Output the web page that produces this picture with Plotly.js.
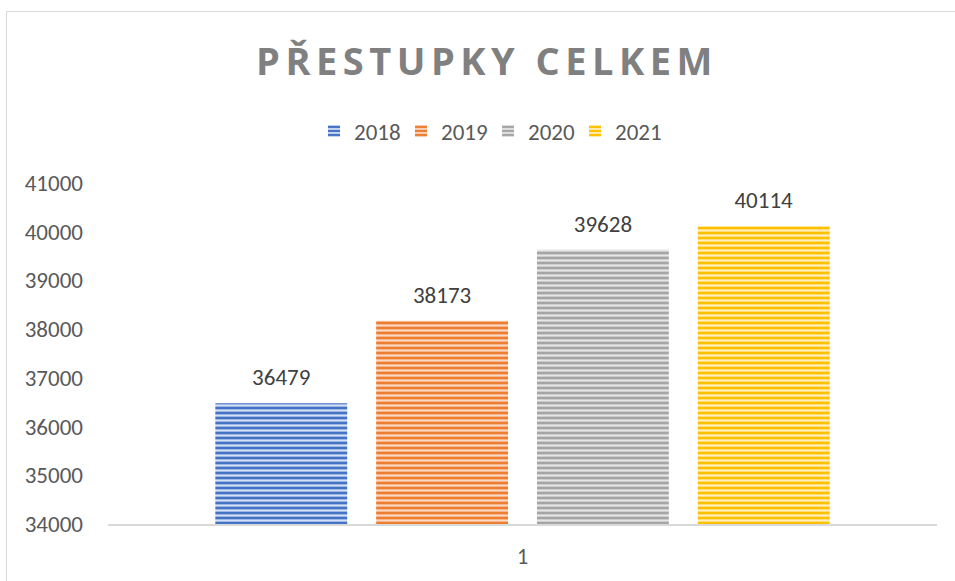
<!DOCTYPE html>
<html>
<head>
<meta charset="utf-8">
<script src="https://cdn.plot.ly/plotly-3.0.1.min.js"></script>
<style>
html,body{margin:0;padding:0;background:#fff;overflow:hidden;}
#chart{position:absolute;left:0;top:0;width:955px;height:581px;}
#frame{position:absolute;left:6px;top:11px;width:2000px;height:2000px;border-left:1px solid #d9d9d9;border-top:1px solid #d9d9d9;pointer-events:none;}
.gtitle{letter-spacing:5.5px;}
</style>
</head>
<body>
<div id="chart"></div>
<div id="frame"></div>
<script>
const categories = ['1'];
const seriesNames = ['2018', '2019', '2020', '2021'];
const seriesValues = [[36479], [38173], [39628], [40114]];
const yTicks = [34000, 35000, 36000, 37000, 38000, 39000, 40000, 41000];

const baseColors = ['#4472C4', '#ED7D31', '#A5A5A5', '#FFC000'];
const lightColors = ['#d4e0f5', '#fbd9c2', '#e6e6e6', '#fff0bf'];
const FONT = 'Carlito, Calibri, "Liberation Sans", sans-serif';

const traces = seriesNames.map((name, i) => ({
  type: 'bar',
  name: name,
  x: categories,
  y: seriesValues[i],
  text: seriesValues[i].map(String),
  texttemplate: '%{text}',
  textposition: 'outside',
  cliponaxis: false,
  textfont: {family: FONT, size: 23, color: '#404040'},
  marker: {
    color: baseColors[i],
    line: {width: 0},
    pattern: {shape: '-', fillmode: 'replace', bgcolor: baseColors[i], fgcolor: lightColors[i], size: 5, solidity: 0.45}
  },
  hoverinfo: 'none'
}));

const layout = {
  width: 955,
  height: 581,
  margin: {l: 108, r: 18, t: 183, b: 57},
  paper_bgcolor: 'rgba(0,0,0,0)',
  plot_bgcolor: 'rgba(0,0,0,0)',
  barmode: 'group',
  bargap: 0.224,
  bargroupgap: 0.18,
  title: {
    text: '<b>PŘESTUPKY CELKEM</b>',
    font: {family: '"Open Sans", sans-serif', size: 38, color: '#808080'},
    x: 487 / 955, xanchor: 'center', xref: 'container',
    y: 1 - 62/581, yanchor: 'middle', yref: 'container'
  },
  showlegend: true,
  legend: {
    orientation: 'h',
    x: (488 - 108) / 829, xanchor: 'center',
    y: 1 + (183 - 131) / 341, yanchor: 'middle',
    font: {family: FONT, size: 23, color: '#595959'},
    itemwidth: 30,
    entrywidth: 42,
    entrywidthmode: 'pixels',
    traceorder: 'normal'
  },
  xaxis: {
    type: 'category',
    showline: true, linecolor: '#d9d9d9', linewidth: 2,
    showgrid: false, zeroline: false, ticks: '',
    tickfont: {family: FONT, size: 22, color: '#595959'},
    ticklabelstandoff: 12
  },
  yaxis: {
    range: [34000, 41000],
    tickvals: yTicks,
    ticktext: yTicks.map(String),
    showline: false, showgrid: false, zeroline: false, ticks: '',
    tickfont: {family: FONT, size: 23, color: '#595959'},
    ticklabelstandoff: 24
  }
};

Plotly.newPlot('chart', traces, layout, {displayModeBar: false, staticPlot: true}).then(function (gd) {
  try {
    gd.querySelectorAll('text.bartext').forEach(function (t) {
      const tr = t.getAttribute('transform') || '';
      t.setAttribute('transform', 'translate(0,-9) ' + tr);
    });
  } catch (e) {}
});
</script>
</body>
</html>
